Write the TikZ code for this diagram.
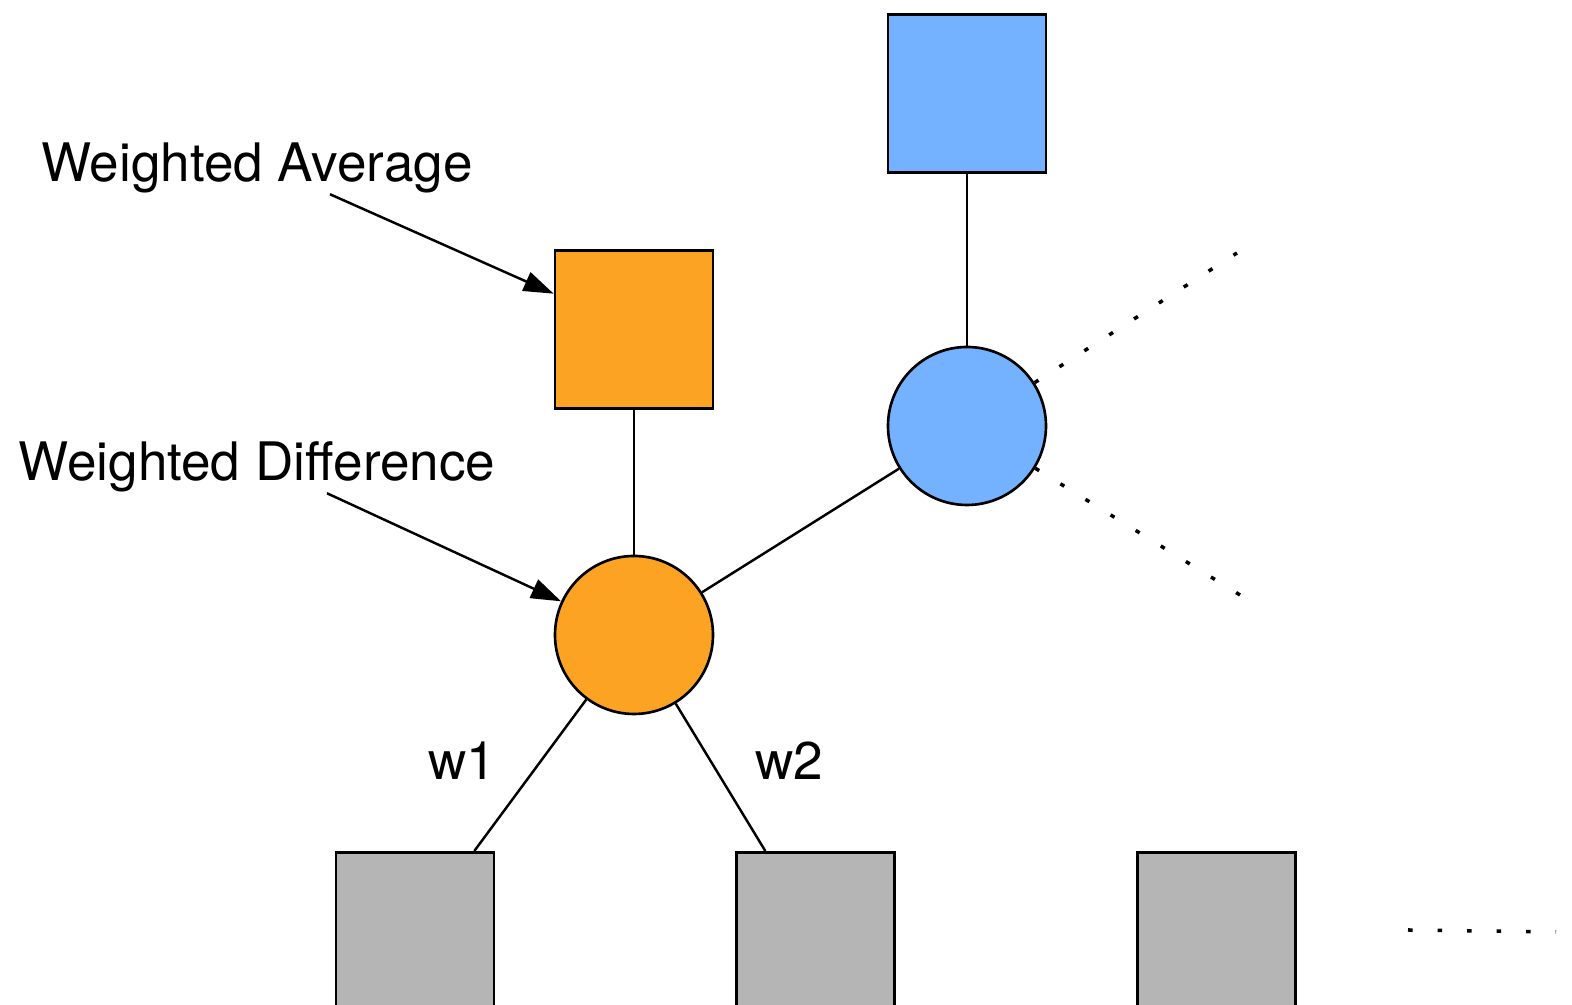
\documentclass[tikz,border=0pt]{standalone}
\usepackage{fontspec}
\setmainfont{TeX Gyre Heros}
\usetikzlibrary{arrows.meta, positioning}

\definecolor{avgorange}{RGB}{252,163,35}
\definecolor{upblue}{RGB}{116,177,255}
\definecolor{ingray}{RGB}{181,181,181}

\begin{document}
\begin{tikzpicture}[
    node distance=2.4cm,
    sq/.style={rectangle, draw, line width=0.75pt, minimum size=1.58cm},
    unit/.style={circle, draw, line width=0.75pt, minimum size=1.58cm, inner sep=0pt},
    inbox/.style={rectangle, draw, line width=0.75pt, fill=ingray, minimum width=1.58cm, minimum height=2cm, anchor=north},
    lbl/.style={font=\fontsize{15.1}{18}\selectfont, inner sep=0pt, anchor=base},
    link/.style={line width=0.7pt},
    arrow/.style={line width=0.7pt, -{Triangle[length=0.3cm, width=0.2cm]}},
    dots/.style={line width=1pt, dash pattern=on 1.3pt off 7.1pt}
  ]
    \clip (0,0) rectangle (15.72,10.05);
    \node[unit, fill=avgorange] (wdiff) at (6.34,3.70) {};
    \node[sq, fill=avgorange, above=1.45cm of wdiff] (wavg) {};
    \node[unit, fill=upblue] (bdiff) at (9.67,5.79) {};
    \node[sq, fill=upblue, above=1.72cm of bdiff] (bavg) {};
    \node[inbox] (in1) at (4.15,1.54) {};
    \node[inbox, right=of in1] (in2) {};
    \node[inbox, right=of in2] (in3) {};
    \node[lbl] (lblavg) at (2.57,8.23) {Weighted Average};
    \node[lbl] (lbldiff) at (2.57,5.24) {Weighted Difference};
    \node[lbl] (w1) at (4.62,2.25) {w1};
    \node[lbl] (w2) at (7.89,2.25) {w2};
    \coordinate (moreup) at (12.37,7.52);
    \coordinate (moredown) at (12.40,4.10);
    \coordinate (morefrom) at (14.08,0.75);
    \coordinate (moreto) at (15.56,0.73);
    \draw[link] (wdiff) -- (wavg);
    \draw[link] (bdiff) -- (bavg);
    \draw[link] (wdiff) -- (bdiff);
    \draw[link] (wdiff) -- ([xshift=-0.21cm]in1.north east);
    \draw[link] (wdiff) -- ([xshift=0.3cm]in2.north west);
    \draw[arrow] ([xshift=0.73cm]lblavg.south) -- (wavg);
    \draw[arrow] ([xshift=0.7cm]lbldiff.south) -- (wdiff);
    \draw[dots] (bdiff) -- (moreup);
    \draw[dots] (bdiff) -- (moredown);
    \draw[dots] (morefrom) -- (moreto);
  \end{tikzpicture}
\end{document}
